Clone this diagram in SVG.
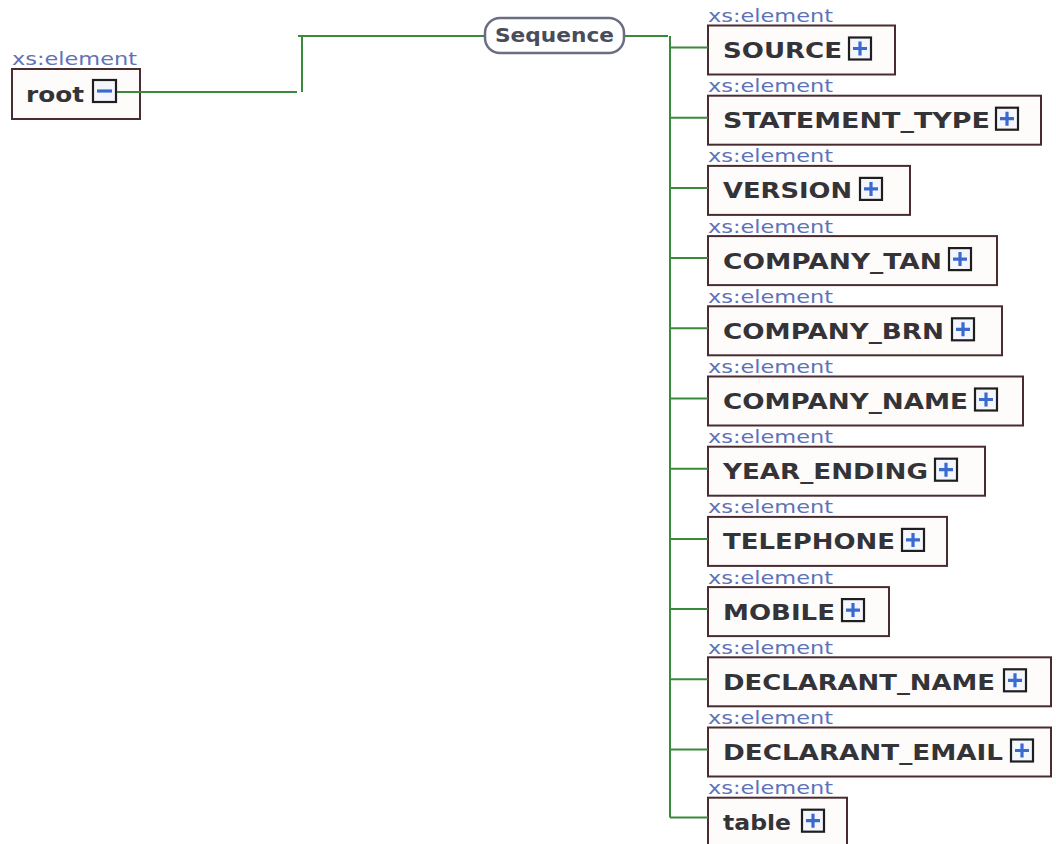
<svg xmlns="http://www.w3.org/2000/svg" xmlns:xlink="http://www.w3.org/1999/xlink" width="1056" height="844" viewBox="0 0 1056 844">
<style>
.box{fill:#fefbfb;stroke:#4a2c30;stroke-width:2}
.lbl{font-family:"DejaVu Sans",Verdana,sans-serif;font-size:18px;fill:#5f72b8}
.name{font-family:"DejaVu Sans",Verdana,sans-serif;font-weight:bold;font-size:22px;fill:#333338}
.seq{fill:#ffffff;stroke:#6a6e80;stroke-width:2.5}
.seqt{font-family:"DejaVu Sans",Verdana,sans-serif;font-weight:bold;font-size:19px;fill:#4a4c5a}
.conn{fill:none;stroke:#3b8a3b;stroke-width:2}
</style>
<defs>
<g id="plus">
<rect x="1" y="1" width="22" height="22" fill="#f3f6fc" stroke="#1e1e1e" stroke-width="2.2"/>
<path d="M5 12H19M12 5V19" stroke="#3a6ad0" stroke-width="3.2"/>
</g>
<g id="minus">
<rect x="1" y="1" width="23" height="22" fill="#f3f6fc" stroke="#1e1e1e" stroke-width="2.2"/>
<path d="M5 12H20" stroke="#3a6ad0" stroke-width="3.2"/>
</g>
</defs>
<g id="root">
<text class="lbl" x="12" y="65" textLength="125" lengthAdjust="spacingAndGlyphs">xs:element</text>
<rect class="box" x="12" y="69" width="128" height="50"/>
<text class="name" x="26" y="102" textLength="58" lengthAdjust="spacingAndGlyphs">root</text>
<use xlink:href="#minus" x="92" y="79"/>
</g>
<g id="sequence">
<rect class="seq" x="485" y="18" width="139" height="35" rx="15"/>
<text class="seqt" x="495" y="42" textLength="119" lengthAdjust="spacingAndGlyphs">Sequence</text>
</g>
<g id="n0"><text class="lbl" x="708" y="22" textLength="125" lengthAdjust="spacingAndGlyphs">xs:element</text><rect class="box" x="708" y="25.5" width="187" height="49"/><text class="name" x="723" y="58" textLength="119" lengthAdjust="spacingAndGlyphs">SOURCE</text><use xlink:href="#plus" x="848" y="36.5"/></g>
<g id="n1"><text class="lbl" x="708" y="92.2" textLength="125" lengthAdjust="spacingAndGlyphs">xs:element</text><rect class="box" x="708" y="95.7" width="333" height="49"/><text class="name" x="723" y="128.2" textLength="267" lengthAdjust="spacingAndGlyphs">STATEMENT_TYPE</text><use xlink:href="#plus" x="995" y="106.7"/></g>
<g id="n2"><text class="lbl" x="708" y="162.4" textLength="125" lengthAdjust="spacingAndGlyphs">xs:element</text><rect class="box" x="708" y="165.9" width="202" height="49"/><text class="name" x="723" y="198.4" textLength="129" lengthAdjust="spacingAndGlyphs">VERSION</text><use xlink:href="#plus" x="859" y="176.9"/></g>
<g id="n3"><text class="lbl" x="708" y="232.6" textLength="125" lengthAdjust="spacingAndGlyphs">xs:element</text><rect class="box" x="708" y="236.1" width="289" height="49"/><text class="name" x="723" y="268.6" textLength="219" lengthAdjust="spacingAndGlyphs">COMPANY_TAN</text><use xlink:href="#plus" x="948" y="247.1"/></g>
<g id="n4"><text class="lbl" x="708" y="302.8" textLength="125" lengthAdjust="spacingAndGlyphs">xs:element</text><rect class="box" x="708" y="306.3" width="294" height="49"/><text class="name" x="723" y="338.8" textLength="221" lengthAdjust="spacingAndGlyphs">COMPANY_BRN</text><use xlink:href="#plus" x="951" y="317.3"/></g>
<g id="n5"><text class="lbl" x="708" y="373" textLength="125" lengthAdjust="spacingAndGlyphs">xs:element</text><rect class="box" x="708" y="376.5" width="315" height="49"/><text class="name" x="723" y="409" textLength="245" lengthAdjust="spacingAndGlyphs">COMPANY_NAME</text><use xlink:href="#plus" x="974" y="387.5"/></g>
<g id="n6"><text class="lbl" x="708" y="443.2" textLength="125" lengthAdjust="spacingAndGlyphs">xs:element</text><rect class="box" x="708" y="446.7" width="277" height="49"/><text class="name" x="723" y="479.2" textLength="205" lengthAdjust="spacingAndGlyphs">YEAR_ENDING</text><use xlink:href="#plus" x="934" y="457.7"/></g>
<g id="n7"><text class="lbl" x="708" y="513.4" textLength="125" lengthAdjust="spacingAndGlyphs">xs:element</text><rect class="box" x="708" y="516.9" width="239" height="49"/><text class="name" x="723" y="549.4" textLength="172" lengthAdjust="spacingAndGlyphs">TELEPHONE</text><use xlink:href="#plus" x="901" y="527.9"/></g>
<g id="n8"><text class="lbl" x="708" y="583.6" textLength="125" lengthAdjust="spacingAndGlyphs">xs:element</text><rect class="box" x="708" y="587.1" width="181" height="49"/><text class="name" x="723" y="619.6" textLength="112" lengthAdjust="spacingAndGlyphs">MOBILE</text><use xlink:href="#plus" x="841" y="598.1"/></g>
<g id="n9"><text class="lbl" x="708" y="653.8" textLength="125" lengthAdjust="spacingAndGlyphs">xs:element</text><rect class="box" x="708" y="657.3" width="343" height="49"/><text class="name" x="723" y="689.8" textLength="272" lengthAdjust="spacingAndGlyphs">DECLARANT_NAME</text><use xlink:href="#plus" x="1003" y="668.3"/></g>
<g id="n10"><text class="lbl" x="708" y="724" textLength="125" lengthAdjust="spacingAndGlyphs">xs:element</text><rect class="box" x="708" y="727.5" width="343" height="49"/><text class="name" x="723" y="760" textLength="280" lengthAdjust="spacingAndGlyphs">DECLARANT_EMAIL</text><use xlink:href="#plus" x="1010" y="738.5"/></g>
<g id="n11"><text class="lbl" x="708" y="794.2" textLength="125" lengthAdjust="spacingAndGlyphs">xs:element</text><rect class="box" x="708" y="797.7" width="139" height="49"/><text class="name" x="723" y="830.2" textLength="68" lengthAdjust="spacingAndGlyphs">table</text><use xlink:href="#plus" x="801" y="808.7"/></g>
<g id="connectors">
<path class="conn" d="M117 92H297"/>
<path class="conn" d="M302 92V36"/>
<path class="conn" d="M298 36H484"/>
<path class="conn" d="M625 36H668"/>
<path class="conn" d="M670 36V817.5"/>
<path class="conn" d="M670 47.5H708M670 117.7H708M670 187.9H708M670 258.1H708M670 328.3H708M670 398.5H708M670 468.7H708M670 538.9H708M670 609.1H708M670 679.3H708M670 749.5H708M670 817.5H708"/>
</g>
</svg>
